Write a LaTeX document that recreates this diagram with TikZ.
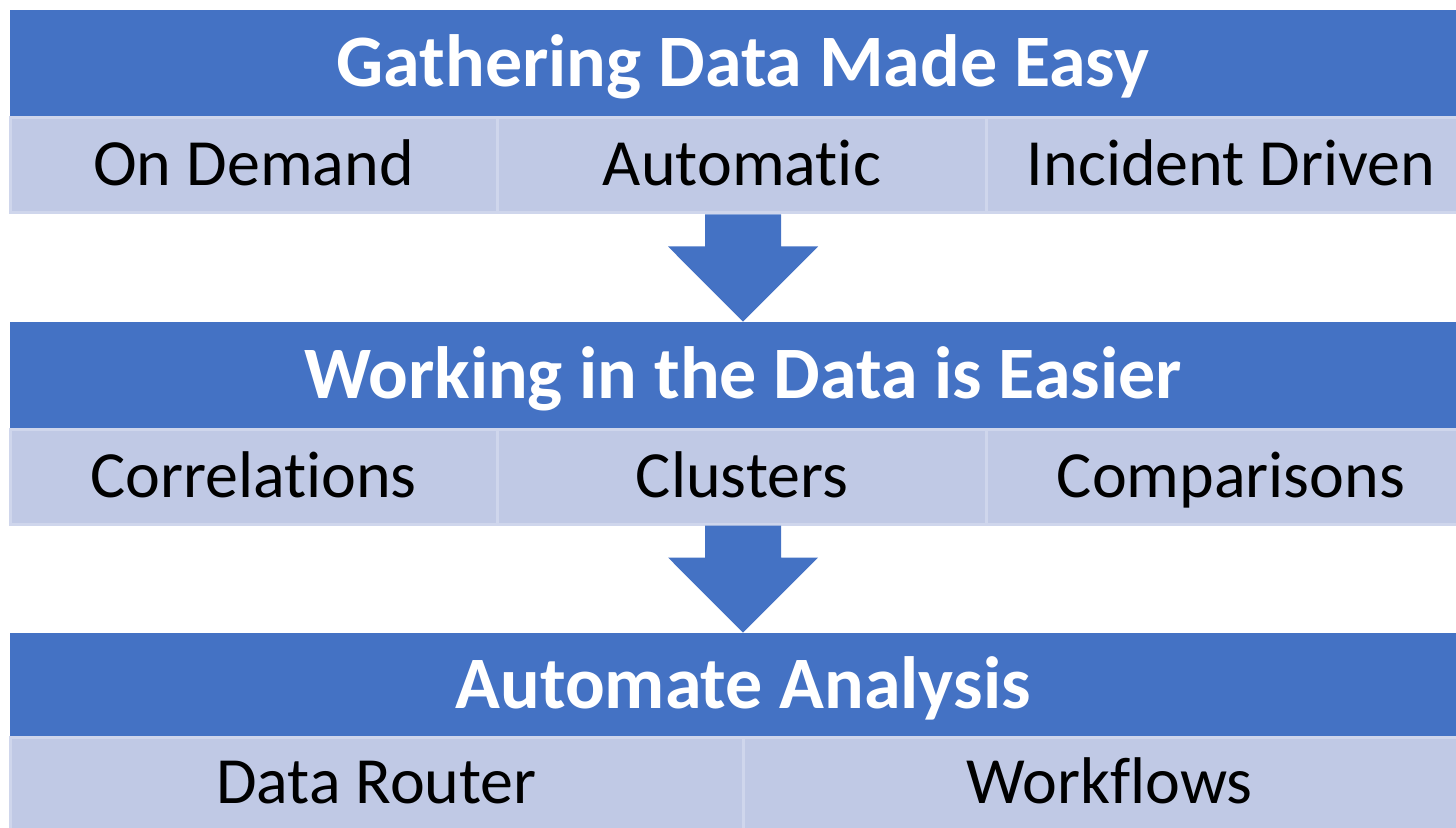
\documentclass[tikz,border=0pt]{standalone}
\usepackage{fontspec}
\setmainfont{Carlito}[Ligatures=CommonOff]
\usetikzlibrary{calc}
\definecolor{headblue}{HTML}{4472C4}
\definecolor{cellblue}{HTML}{C0C9E5}
\definecolor{cellline}{HTML}{CFD6EC}
\tikzset{
  head/.style={fill=headblue,inner sep=0pt,minimum width=733pt,
    text height=28pt,text depth=5pt,
    font=\fontsize{37}{42}\selectfont\bfseries,text=white},
  cell/.style={fill=cellblue,draw=cellline,line width=1.5pt,inner sep=0pt,
    text height=24pt,text depth=3.5pt,
    font=\fontsize{33}{38}\selectfont,text=black},
  blockarrow/.style={fill=headblue}
}
\begin{document}
\begin{tikzpicture}[x=0.5pt,y=-0.5pt]
       \useasboundingbox (0,0) rectangle (1456,828);
       
       % first block
       \node[head,minimum height=54pt] (gather) at (743,64) {Gathering Data Made Easy};
       \node[cell,minimum width=243.5pt,minimum height=47.5pt] (demand) at (253.5,165.5) {On Demand};
       \node[cell,minimum width=245pt,minimum height=47.5pt] (auto) at (742,165.5) {Automatic};
       \node[cell,minimum width=244.5pt,minimum height=47.5pt] (incident) at (1231,165.5) {Incident Driven};
       
       % second block
       \node[head,minimum height=54pt] (work) at (743,376) {Working in the Data is Easier};
       \node[cell,minimum width=243.5pt,minimum height=47pt] (corr) at (253.5,477) {Correlations};
       \node[cell,minimum width=245pt,minimum height=47pt] (clust) at (742,477) {Clusters};
       \node[cell,minimum width=244.5pt,minimum height=47pt] (comp) at (1231,477) {Comparisons};
       
       % third block
       \node[head,minimum height=52pt] (analysis) at (743,685) {Automate Analysis};
       \node[cell,minimum width=366.5pt,minimum height=46pt] (router) at (376.5,783) {Data Router};
       \node[cell,minimum width=366.5pt,minimum height=46pt] (flows) at (1109.5,783) {Workflows};
       
       % block arrows
       \foreach \a/\b in {auto/work,clust/analysis}  {
       	\fill[blockarrow] ($(\a.south)+(-37,0)$) -- ($(\a.south)+(39,0)$)
       	-- ($(\a.south)+(39,32)$) -- ($(\a.south)+(76,32)$) -- (\b.north)
       	-- ($(\a.south)+(-74,32)$) -- ($(\a.south)+(-37,32)$) -- cycle;
       }
       
\end{tikzpicture}
\end{document}
